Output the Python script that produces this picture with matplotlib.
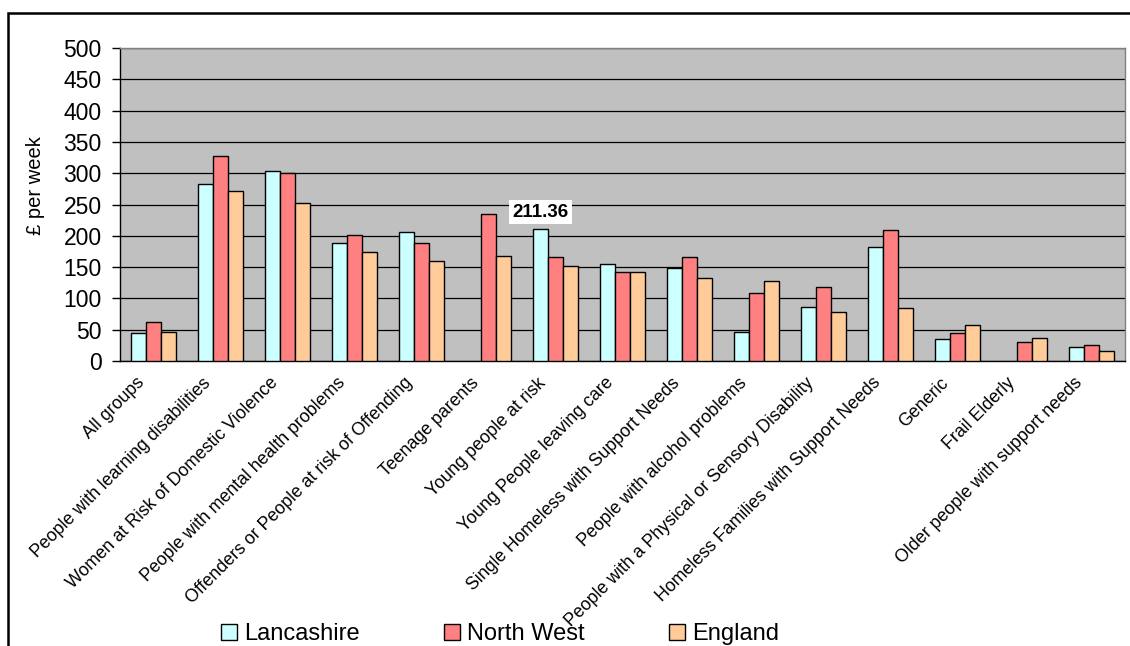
import numpy as np
import matplotlib
matplotlib.use('Agg')
from matplotlib import pyplot as plt
from matplotlib.patches import Rectangle
from matplotlib.transforms import ScaledTranslation

plt.rcParams['font.family'] = 'Liberation Sans'

groups = ['All groups', 'People with learning disabilities',
          'Women at Risk of Domestic Violence', 'People with mental health problems',
          'Offenders or People at risk of Offending', 'Teenage parents',
          'Young people at risk', 'Young People leaving care',
          'Single Homeless with Support Needs', 'People with alcohol problems',
          'People with a Physical or Sensory Disability',
          'Homeless Families with Support Needs', 'Generic', 'Frail Elderly',
          'Older people with support needs']

# weekly cost (GBP); nan = no figure for that area
lancashire = [45.4, 282.8, 303.0, 188.0, 206.5, np.nan, 211.36, 155.3,
              148.4, 47.0, 86.5, 182.5, 35.8, np.nan, 22.5]
north_west = [62.0, 327.6, 300.4, 200.7, 188.9, 234.8, 166.0, 142.5,
              166.0, 108.4, 118.5, 208.7, 44.3, 30.4, 26.2]
england = [47.0, 272.0, 252.9, 173.5, 160.0, 167.6, 152.0, 142.5,
           132.9, 128.0, 78.0, 84.9, 57.0, 36.9, 16.6]

series = [('Lancashire', lancashire, '#CCFFFF'),
          ('North West', north_west, '#FF8080'),
          ('England', england, '#FFCC99')]

labelled_group = 'Young people at risk'

fig = plt.figure(figsize=(11.3, 6.46), dpi=100)
ax = fig.add_axes([120 / 1130, 1 - 361 / 646, 1005 / 1130, 313 / 646])
ax.set_facecolor('#C0C0C0')

x = np.arange(len(groups))
width = 0.224
bars = []
for k, (name, vals, col) in enumerate(series):
    b = ax.bar(x + (k - 1) * width, vals, width, color=col,
               edgecolor='black', linewidth=1.0, label=name, zorder=3)
    bars.append(b)

# value label over the Lancashire bar
i = groups.index(labelled_group)
ax.annotate('%.2f' % lancashire[i], xy=(x[i] - width, lancashire[i]),
            xytext=(0, 12), textcoords='offset points', ha='center',
            va='center', fontsize=13.5, fontweight='bold', zorder=5,
            bbox=dict(boxstyle='square,pad=0.2', fc='white', ec='none'))

ax.set_xlim(-0.5, len(groups) - 0.5)
ax.set_ylim(0, 500)
ax.set_yticks(np.arange(0, 501, 50))
ax.tick_params(axis='y', direction='out', length=5.8, width=1,
               labelsize=16.5, pad=7.5)
ax.yaxis.grid(True, color='black', linewidth=0.9)
ax.set_axisbelow(True)

ax.set_xticks(x)
ax.set_xticklabels(groups, rotation=45, ha='right', va='center',
                   rotation_mode='anchor', fontsize=12.8)
ax.tick_params(axis='x', length=0, pad=14)
shift = ScaledTranslation(-0.12, 0, fig.dpi_scale_trans)
for lbl in ax.get_xticklabels():
    lbl.set_transform(lbl.get_transform() + shift)

for side in ['left', 'bottom']:
    ax.spines[side].set_color('black')
    ax.spines[side].set_linewidth(1.0)
for side in ['top', 'right']:
    ax.spines[side].set_color('#808080')
    ax.spines[side].set_linewidth(1.0)

fig.text(35.5 / 1130, 1 - 186 / 646, '£ per week', rotation=90,
         ha='center', va='center', fontsize=14.5)

fig.legend(handles=bars, loc='center', bbox_to_anchor=(500 / 1130, 1 - 634 / 646),
           ncol=3, frameon=False, fontsize=17, handlelength=0.65,
           handleheight=0.65, handletextpad=0.3, columnspacing=3.6,
           borderpad=0)

# outer frame around the chart
fig.add_artist(Rectangle((8 / 1130, -0.1), 1.2, 1.1 - 13 / 646,
                         transform=fig.transFigure, fill=False,
                         edgecolor='black', linewidth=1.8, clip_on=False))

fig.savefig('out.png', dpi=100)
